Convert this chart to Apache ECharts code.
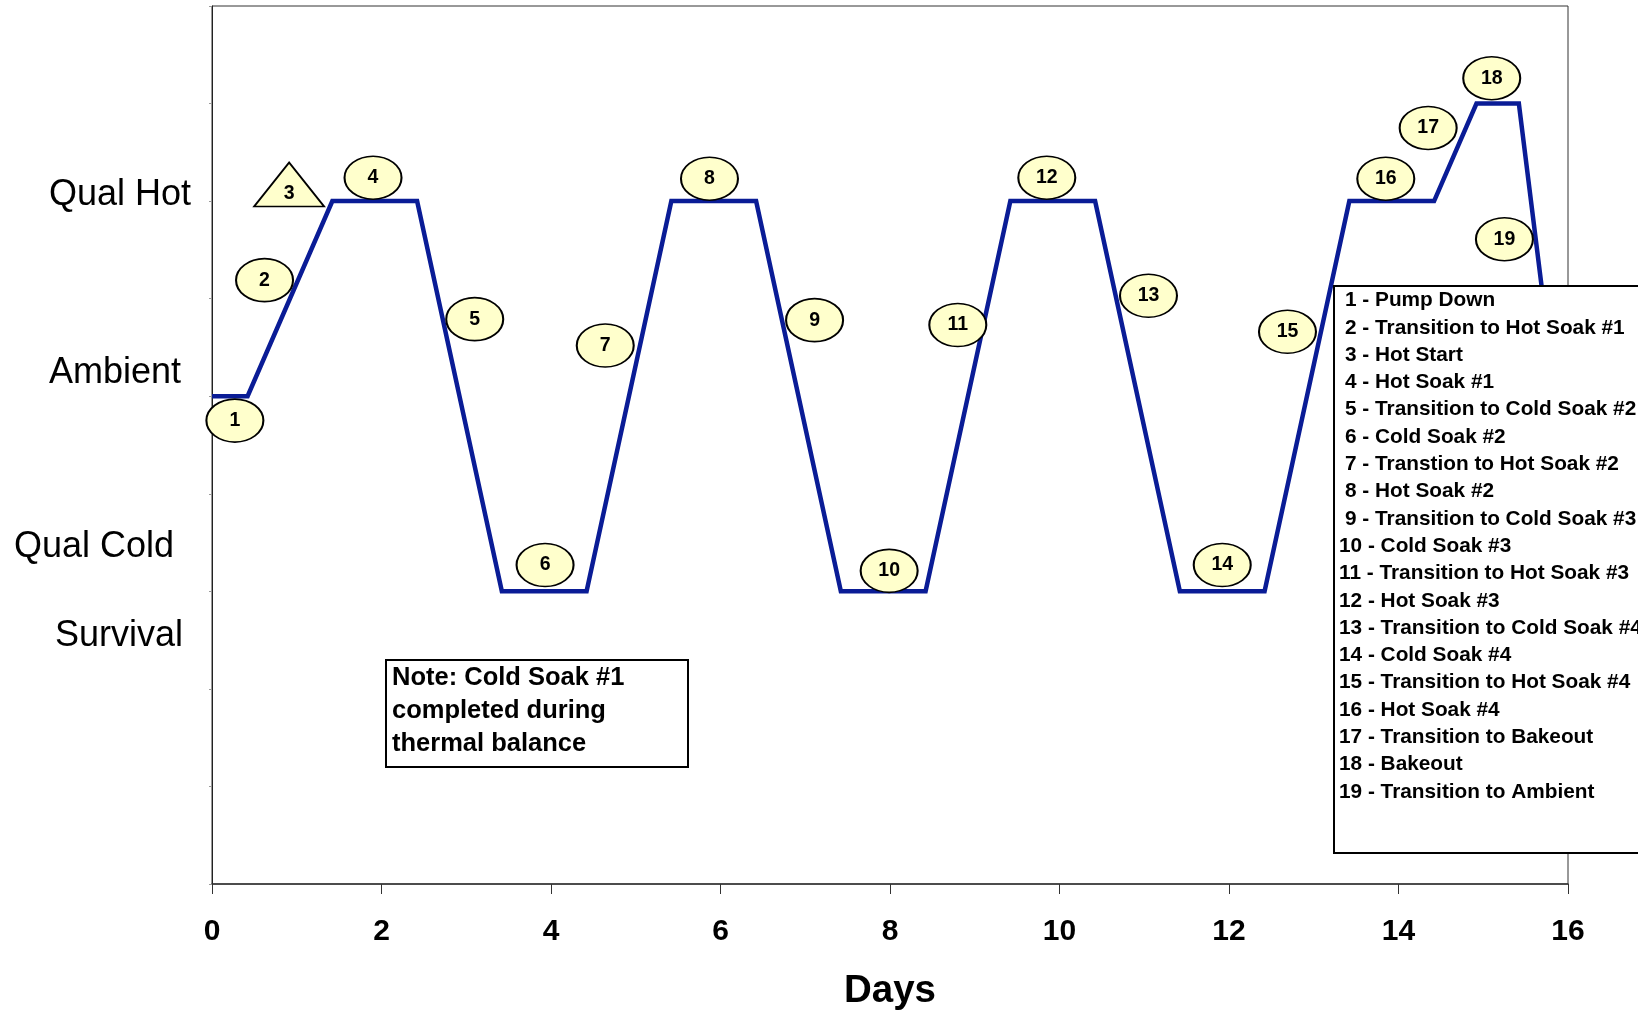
<!DOCTYPE html>
<html>
<head>
<meta charset="utf-8">
<script src="https://cdn.jsdelivr.net/npm/echarts@6/dist/echarts.min.js"></script>
<style>
html,body{margin:0;padding:0;background:#fff;}
#chart{width:1638px;height:1011px;}
</style>
</head>
<body>
<div id="chart"></div>
<script>
// ---- data ----
const days   = [0, 0.42, 1.42, 2.42, 3.42, 4.42, 5.42, 6.42, 7.42, 8.42, 9.42, 10.42, 11.42, 12.42, 13.42, 14.42, 14.92, 15.42, 15.85];
const levels = [5, 5,    7,    7,    3,    3,    7,    7,    3,    3,    7,    7,     3,     3,     7,     7,     8,     8,     5];

const xTickValues = [0, 2, 4, 6, 8, 10, 12, 14, 16];
const xAxisTitle = 'Days';

const yLevelNames = ['Qual Hot', 'Ambient', 'Qual Cold', 'Survival'];
const yLevelValues = [7.06, 5.235, 3.45, 2.545];

const calloutIds = ['1','2','3','4','5','6','7','8','9','10','11','12','13','14','15','16','17','18','19'];
const calloutDay = [0.27, 0.62, 0.91, 1.90, 3.10, 3.93, 4.64, 5.87, 7.11, 7.99, 8.80, 9.85, 11.05, 11.92, 12.69, 13.85, 14.35, 15.10, 15.25];
const calloutLvl = [4.75, 6.19, 7.17, 7.24, 5.79, 3.27, 5.52, 7.23, 5.78, 3.21, 5.73, 7.24, 6.03, 3.27, 5.66, 7.23, 7.75, 8.26, 6.61];

const legendLines = [
  '1 - Pump Down',
  '2 - Transition to Hot Soak #1',
  '3 - Hot Start',
  '4 - Hot Soak #1',
  '5 - Transition to Cold Soak #2',
  '6 - Cold Soak #2',
  '7 - Transtion to Hot Soak #2',
  '8 - Hot Soak #2',
  '9 - Transition to Cold Soak #3',
  '10 - Cold Soak #3',
  '11 - Transition to Hot Soak #3',
  '12 - Hot Soak #3',
  '13 - Transition to Cold Soak #4',
  '14 - Cold Soak #4',
  '15 - Transition to Hot Soak #4',
  '16 - Hot Soak #4',
  '17 - Transition to Bakeout',
  '18 - Bakeout',
  '19 - Transition to Ambient'
];
const noteLines = ['Note: Cold Soak #1', 'completed during', 'thermal balance'];

// ---- layout / style ----
const FONT = 'Liberation Sans, Arial, Helvetica, sans-serif';
const LINE_COLOR = '#0a1c96';
const yLabelLeft = [49, 49, 14, 55];

const chart = echarts.init(document.getElementById('chart'), null, {renderer: 'canvas'});

const lineData = days.map((d, i) => [d, levels[i]]);
const calloutData = calloutIds.map((id, i) => {
  const tri = id === '3';
  return {
    name: id,
    value: [calloutDay[i], calloutLvl[i]],
    symbol: tri ? 'triangle' : 'circle',
    symbolSize: tri ? [70, 44] : [57, 43],
    label: tri ? {offset: [0, 9]} : {}
  };
});

const graphics = [];
// note box
graphics.push({
  type: 'rect', z: 50,
  shape: {x: 386, y: 660, width: 302, height: 107},
  style: {fill: '#fff', stroke: '#000', lineWidth: 2}
});
noteLines.forEach((t, i) => {
  graphics.push({
    type: 'text', z: 51,
    style: {text: t, x: 392, y: 678 + i * 33, font: 'bold 25.5px ' + FONT, fill: '#000', textVerticalAlign: 'middle'}
  });
});
// legend box
graphics.push({
  type: 'rect', z: 50,
  shape: {x: 1334, y: 286, width: 400, height: 567},
  style: {fill: '#fff', stroke: '#000', lineWidth: 2}
});
legendLines.forEach((t, i) => {
  graphics.push({
    type: 'text', z: 51,
    style: {text: t, x: i < 9 ? 1345 : 1339, y: 300.5 + i * 27.3, font: 'bold 20.8px ' + FONT, fill: '#000', textVerticalAlign: 'middle'}
  });
});

const option = {
  backgroundColor: '#fff',
  animation: false,
  grid: {left: 212, top: 6, width: 1356, height: 878, show: true, borderColor: '#333', borderWidth: 1,
    backgroundColor: 'transparent', containLabel: false, outerBoundsMode: 'none'},
  xAxis: {
    type: 'value', min: 0, max: 16, interval: 2,
    name: xAxisTitle, nameLocation: 'middle', nameGap: 88,
    nameTextStyle: {fontFamily: FONT, fontWeight: 'bold', fontSize: 38.5, color: '#000'},
    axisLine: {show: true, lineStyle: {color: '#333', width: 1.5}},
    axisTick: {show: true, length: 10, lineStyle: {color: '#333', width: 1}},
    axisLabel: {show: true, margin: 33, fontFamily: FONT, fontWeight: 'bold', fontSize: 30, color: '#000',
      customValues: xTickValues},
    splitLine: {show: false}
  },
  yAxis: {
    type: 'value', min: 0, max: 9, interval: 1,
    axisLine: {show: true, lineStyle: {color: '#222', width: 1}},
    axisTick: {show: true, length: 3, lineStyle: {color: '#999', width: 1}},
    axisLabel: {show: false},
    splitLine: {show: false}
  },
  series: [
    {
      type: 'line', data: lineData, symbol: 'none', z: 2,
      lineStyle: {color: LINE_COLOR, width: 4.5, join: 'miter'}
    },
    {
      type: 'scatter', data: calloutData, z: 5,
      itemStyle: {color: '#ffffcc', borderColor: '#000', borderWidth: 1.8, opacity: 1},
      label: {show: true, position: 'inside', formatter: '{b}', fontFamily: FONT, fontWeight: 'bold', fontSize: 19.5, color: '#000'},
      emphasis: {disabled: true}
    }
  ],
  graphic: graphics
};
chart.setOption(option);

// y level labels, placed at their level values through the axis scale
const yGraphics = yLevelNames.map((n, i) => {
  const py = chart.convertToPixel({gridIndex: 0}, [0, yLevelValues[i]])[1];
  return {
    type: 'text', z: 20,
    style: {text: n, x: yLabelLeft[i], y: py, font: '36px ' + FONT, fill: '#000', textVerticalAlign: 'middle'}
  };
});
chart.setOption({graphic: graphics.concat(yGraphics)});
</script>
</body>
</html>
